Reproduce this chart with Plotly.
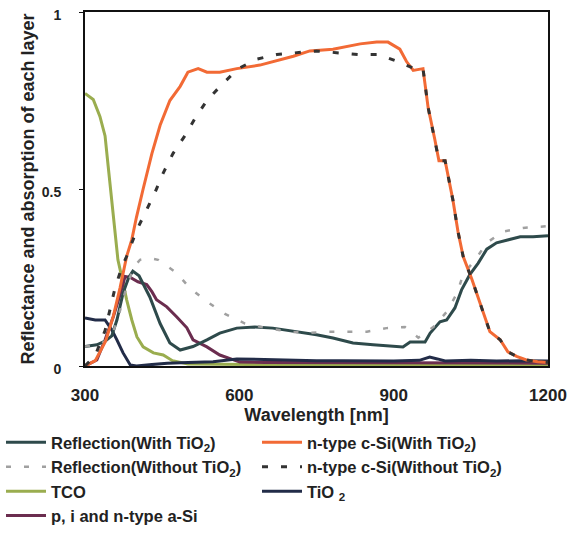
import plotly.graph_objects as go

# ---- data (wavelength [nm], value) ----
refl_with_x = [300, 323, 339, 352, 362, 374, 385, 393, 405, 426, 446, 465, 485, 510, 537, 562, 595,
               630, 665, 700, 734, 750, 782, 821, 860, 899, 918, 932, 961, 971, 990, 1003, 1019,
               1032, 1048, 1064, 1081, 1100, 1126, 1146, 1171, 1200]
refl_with_y = [0.055, 0.06, 0.07, 0.085, 0.13, 0.206, 0.25, 0.268, 0.255, 0.195, 0.12, 0.065, 0.045,
               0.055, 0.074, 0.093, 0.107, 0.11, 0.107, 0.10, 0.093, 0.088, 0.079, 0.065, 0.06,
               0.057, 0.054, 0.068, 0.068, 0.093, 0.125, 0.13, 0.164, 0.215, 0.258, 0.29, 0.33,
               0.348, 0.357, 0.365, 0.365, 0.368]

refl_without_x = [300, 329, 352, 365, 380, 395, 407, 425, 442, 478, 504, 537, 572, 611, 653, 699,
                  734, 770, 809, 848, 886, 922, 948, 977, 1003, 1023, 1035, 1061, 1081, 1113,
                  1151, 1200]
refl_without_y = [0.055, 0.06, 0.085, 0.14, 0.22, 0.28, 0.30, 0.305, 0.30, 0.263, 0.22, 0.182,
                  0.147, 0.12, 0.107, 0.097, 0.093, 0.097, 0.097, 0.097, 0.107, 0.11, 0.08, 0.11,
                  0.153, 0.205, 0.258, 0.305, 0.348, 0.38, 0.39, 0.395]

tco_x = [300, 316, 329, 339, 345, 352, 358, 364, 374, 381, 391, 401, 413, 433, 452, 470, 500,
         600, 700, 800, 900, 1000, 1100, 1200]
tco_y = [0.77, 0.753, 0.705, 0.65, 0.565, 0.47, 0.37, 0.30, 0.235, 0.187, 0.13, 0.082, 0.054,
         0.037, 0.031, 0.015, 0.006, 0.004, 0.003, 0.003, 0.003, 0.003, 0.003, 0.003]

asi_x = [300, 323, 339, 355, 368, 378, 388, 403, 420, 430, 439, 459, 478, 498, 510, 537, 562,
         588, 601, 650, 700, 800, 900, 1000, 1100, 1200]
asi_y = [0.0, 0.017, 0.074, 0.139, 0.2, 0.253, 0.25, 0.238, 0.23, 0.21, 0.187, 0.167, 0.139,
         0.108, 0.074, 0.054, 0.031, 0.017, 0.011, 0.01, 0.01, 0.01, 0.01, 0.01, 0.01, 0.008]

nsi_with_x = [300, 320, 340, 355, 368, 381, 391, 400, 413, 430, 446, 465, 485, 500, 520, 537,
              562, 595, 640, 705, 737, 782, 835, 867, 889, 912, 925, 938, 957, 967, 980, 988,
              1000, 1015, 1025, 1035, 1052, 1064, 1078, 1087, 1107, 1122, 1139, 1158, 1180, 1200]
nsi_with_y = [0.0, 0.015, 0.07, 0.14, 0.22, 0.31, 0.357, 0.42, 0.50, 0.60, 0.68, 0.75, 0.79,
              0.83, 0.84, 0.83, 0.83, 0.84, 0.85, 0.875, 0.89, 0.895, 0.91, 0.915, 0.915, 0.895,
              0.86, 0.835, 0.84, 0.73, 0.64, 0.58, 0.58, 0.47, 0.38, 0.31, 0.245, 0.195, 0.14,
              0.097, 0.074, 0.04, 0.027, 0.017, 0.012, 0.01]

nsi_without_x = [300, 320, 339, 349, 358, 371, 381, 401, 420, 436, 452, 471, 494, 514, 537, 566,
                 598, 634, 673, 712, 750, 789, 831, 870, 908, 941, 957, 967, 980, 988, 1000, 1015,
                 1025, 1035, 1052, 1064, 1078, 1087, 1107, 1122, 1139, 1158, 1180, 1200]
nsi_without_y = [0.0, 0.03, 0.10, 0.159, 0.218, 0.277, 0.31, 0.385, 0.44, 0.49, 0.545, 0.60,
                 0.65, 0.70, 0.75, 0.795, 0.84, 0.867, 0.88, 0.885, 0.89, 0.885, 0.88, 0.88, 0.86,
                 0.84, 0.84, 0.73, 0.64, 0.58, 0.58, 0.47, 0.38, 0.31, 0.245, 0.195, 0.14, 0.097,
                 0.074, 0.04, 0.027, 0.017, 0.012, 0.01]

tio2_x = [300, 320, 339, 352, 362, 374, 388, 400, 430, 460, 500, 549, 595, 650, 700, 750, 800,
          850, 900, 950, 970, 985, 1000, 1050, 1100, 1150, 1200]
tio2_y = [0.136, 0.13, 0.13, 0.102, 0.074, 0.037, 0.003, 0.0, 0.004, 0.008, 0.01, 0.012, 0.02,
          0.018, 0.016, 0.015, 0.015, 0.014, 0.014, 0.016, 0.025, 0.02, 0.014, 0.016, 0.014,
          0.015, 0.014]

x_ticks = [300, 600, 900, 1200]
y_ticks = [0, 0.5, 1]
y_tick_labels = ["0", "0.5", "1"]

names = {
    "refl_with": "Reflection(With TiO<sub>2</sub>)",
    "refl_without": "Reflection(Without TiO<sub>2</sub>)",
    "tco": "TCO",
    "asi": "p, i and n-type a-Si",
    "nsi_with": "n-type c-Si(With TiO<sub>2</sub>)",
    "nsi_without": "n-type c-Si(Without TiO<sub>2</sub>)",
    "tio2": "TiO <sub>2</sub>",
}

fig = go.Figure()

def add(x, y, key, color, width=3, dash=None, rank=1):
    fig.add_trace(go.Scatter(
        x=x, y=y, mode="lines", name=names[key], legendrank=rank,
        line=dict(color=color, width=width, dash=dash, shape="linear"),
    ))

add(tco_x, tco_y, "tco", "#9aad4f", rank=5)
add(asi_x, asi_y, "asi", "#6b2d4f", rank=7)
add(tio2_x, tio2_y, "tio2", "#222c48", rank=6)
add(refl_with_x, refl_with_y, "refl_with", "#2e4a4b", rank=1)
add(refl_without_x, refl_without_y, "refl_without", "#a0a0a0", width=2.5, dash="5px,13px", rank=3)
add(nsi_with_x, nsi_with_y, "nsi_with", "#f26a35", rank=2)
add(nsi_without_x, nsi_without_y, "nsi_without", "#333333", width=3, dash="6px,13px", rank=4)

base = "Liberation Sans, Arial, sans-serif"
xtick_font = dict(family=base, size=17, color="#222", weight="bold")
ytick_font = dict(family=base, size=14, color="#222", weight="bold")
xtitle_font = dict(family=base, size=18, color="#222", weight="bold")
ytitle_font = dict(family=base, size=18, color="#222", weight="bold")
legend_font = dict(family=base, size=16.5, color="#222", weight="bold")

W, H = 569, 536
L, R, T, B = 85, 21, 12, 170
plot_h = H - T - B
plot_w = W - L - R

fig.update_layout(
    width=W, height=H,
    margin=dict(l=L, r=R, t=T, b=B, autoexpand=False),
    paper_bgcolor="white", plot_bgcolor="white",
    showlegend=True,
    legend=dict(
        orientation="h", xref="paper", yref="paper",
        x=(1 - L) / plot_w, y=-(425 - (T + plot_h)) / plot_h,
        xanchor="left", yanchor="top",
        entrywidth=201, entrywidthmode="pixels", itemwidth=40,
        font=legend_font,
        bgcolor="rgba(0,0,0,0)", traceorder="normal",
    ),
    xaxis=dict(
        range=[300, 1200], tickvals=x_ticks, ticks="", showgrid=False, zeroline=False,
        showline=True, mirror=True, linecolor="#111", linewidth=2, automargin=False,
        tickfont=xtick_font, ticklabelstandoff=13,
        title=dict(text="Wavelength [nm]", font=xtitle_font, standoff=4),
    ),
    yaxis=dict(
        range=[0, 1], tickvals=y_ticks, ticktext=y_tick_labels, ticks="outside", ticklen=4,
        tickcolor="#111", showgrid=False, zeroline=False, automargin=False,
        showline=True, mirror=True, linecolor="#111", linewidth=2,
        tickfont=ytick_font, ticklabelstandoff=15, ticklabelshift=3,
        ticklabeloverflow="allow",
        title=dict(text="Reflectance and absorption of each layer", font=ytitle_font, standoff=2),
    ),
)

# remove the browser's default 8px body margin so the figure fills the window exactly
fig.write_html("out.html", config={"displayModeBar": False},
               post_script="document.body.style.margin='0px';")
